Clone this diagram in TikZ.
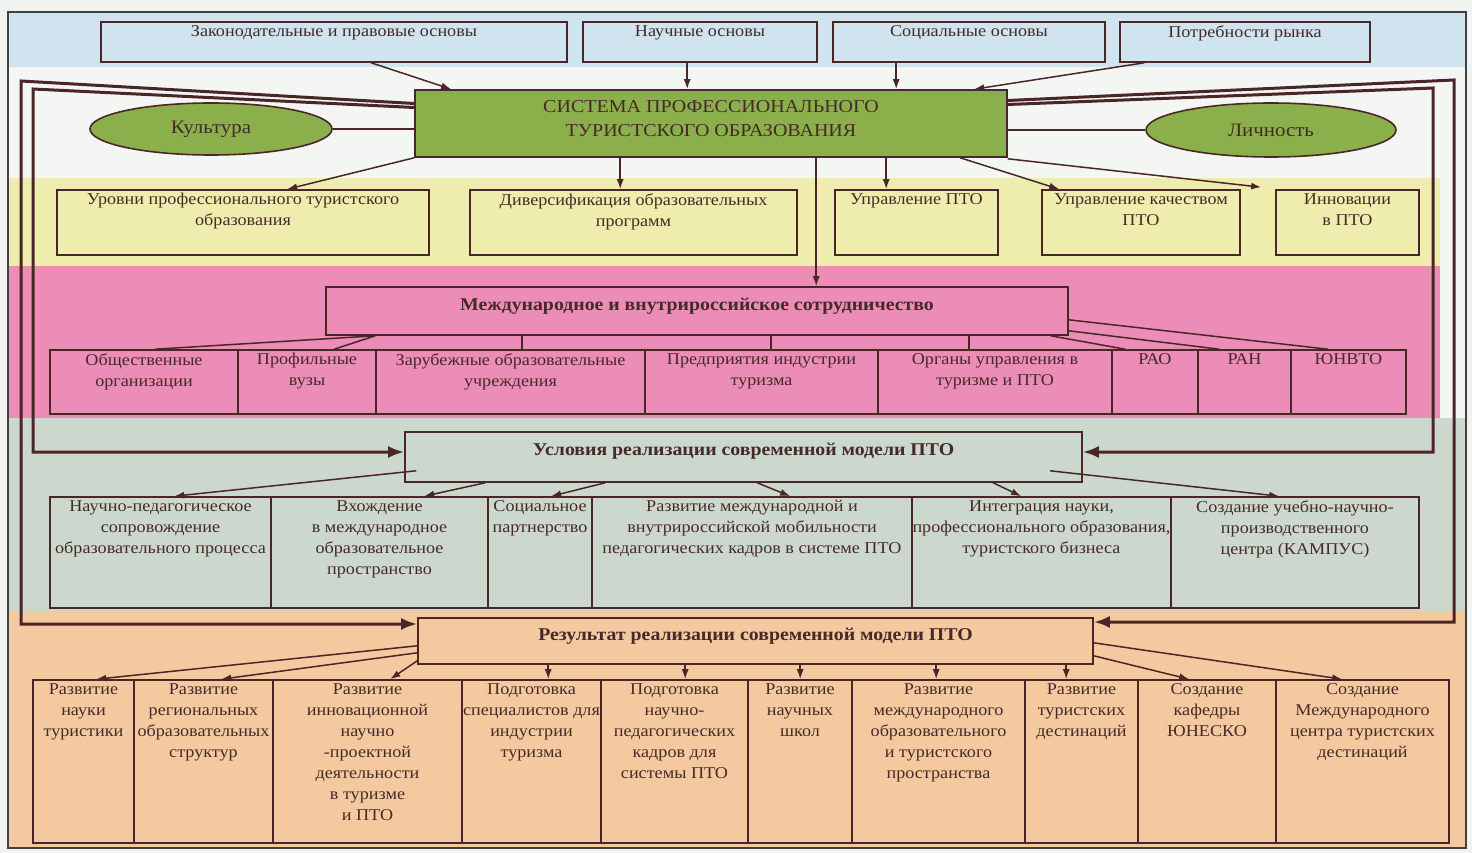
\documentclass[tikz,border=0pt]{standalone}
\usepackage{fontspec}
\setmainfont{Liberation Serif}[FakeStretch=1.1]
\usetikzlibrary{arrows.meta,shapes.geometric}
\definecolor{cpage}{HTML}{F1F3F1}
\definecolor{cblue}{HTML}{CFE4EE}
\definecolor{cwhite}{HTML}{F4F6F4}
\definecolor{cyel}{HTML}{EEEDAE}
\definecolor{cpink}{HTML}{EC8DB7}
\definecolor{cgrey}{HTML}{CCD8CE}
\definecolor{corange}{HTML}{F5C9A0}
\definecolor{cgreen}{HTML}{8BB04B}
\definecolor{ln}{HTML}{4A2626}
\definecolor{txt}{HTML}{452A28}
\tikzset{
  boxsty/.style={draw=ln, line width=1.6pt, rectangle, inner sep=0pt},
  celltxt/.style={text=txt, font=\fontsize{16.5}{21}\selectfont, align=center, anchor=north, inner sep=0pt},
  headtxt/.style={text=txt, font=\fontsize{18}{21}\selectfont\bfseries, align=center, inner sep=0pt},
  conn/.style={draw=ln, line width=1.5pt},
  arr/.style={draw=ln, line width=1.5pt, -{Latex[length=10pt,width=7pt]}},
  loopsty/.style={draw=ln, line width=3pt, -{Latex[length=16pt,width=12pt]}},
  ell/.style={ellipse, draw=ln, line width=1.6pt, fill=cgreen, text=txt, font=\fontsize{19}{21}\selectfont, inner sep=0pt}
}
\newcommand\mkcell[7]{%
  \node[boxsty, minimum width={#4pt-#2pt}, minimum height={#5pt-#3pt}] (#1) at ({(#2+#4)/2},{(#3+#5)/2}) {};
  \node[celltxt] (#1-t) at ({(#2+#4)/2},{#3+#6}) {#7};
}
\begin{document}
\begin{tikzpicture}[x=1pt,y=-1pt]
\useasboundingbox (0,0) rectangle (1472,853);
% backgrounds
\fill[cpage] (0,0) rectangle (1472,853);
\fill[cblue] (8,12) rectangle (1466,67);
\fill[cwhite] (8,67) rectangle (1466,178);
\fill[cwhite] (8,178) rectangle (1466,418);
\fill[cyel] (8,178) rectangle (1440,266);
\fill[cpink] (8,266) rectangle (1440,418);
\fill[cgrey] (8,418) rectangle (1466,611);
\fill[corange] (8,611) rectangle (1466,848);
\draw[draw=black!75, line width=1.5pt] (8,12) rectangle (1466,848);

% top boxes
\mkcell{zak}{101}{22}{567}{62}{3}{Законодательные и правовые основы}
\mkcell{nauch}{583}{22}{817}{62}{3}{Научные основы}
\mkcell{soc}{833}{22}{1105}{62}{3}{Социальные основы}
\mkcell{potr}{1120}{22}{1370}{62}{3}{Потребности рынка}

% main green box
\node[boxsty, fill=cgreen, minimum width=592pt, minimum height=67pt] (G) at (711,123.5) {};
\node[text=txt, font=\fontsize{18.2}{24}\selectfont, align=center, inner sep=0pt] (G-t) at (711,119) {СИСТЕМА ПРОФЕССИОНАЛЬНОГО\\ТУРИСТСКОГО ОБРАЗОВАНИЯ};
\node[ell, minimum width=242pt, minimum height=52pt] (kult) at (211,129) {Культура};
\node[ell, minimum width=250pt, minimum height=54pt] (lich) at (1271,130) {Личность};

% yellow row
\mkcell{urov}{57}{190}{429}{255}{3}{Уровни профессионального туристского\\образования}
\mkcell{div}{470}{190}{797}{255}{3}{Диверсификация образовательных\\программ}
\mkcell{upr}{835}{190}{998}{255}{3}{Управление ПТО}
\mkcell{kach}{1042}{190}{1240}{255}{3}{Управление качеством\\ПТО}
\mkcell{innov}{1276}{190}{1419}{255}{3}{Инновации\\в ПТО}

% pink
\node[boxsty, minimum width=742pt, minimum height=48pt] (mezh) at (697,311) {};
\node[headtxt] (mezh-t) at (697,306) {Международное и внутрироссийское сотрудничество};
\mkcell{obsh}{50}{350}{238}{414}{3}{Общественные\\организации}
\mkcell{prof}{238}{350}{376}{414}{3}{Профильные\\вузы}
\mkcell{zar}{376}{350}{645}{414}{3}{Зарубежные образовательные\\учреждения}
\mkcell{pred}{645}{350}{878}{414}{3}{Предприятия индустрии\\туризма}
\mkcell{org}{878}{350}{1112}{414}{3}{Органы управления в\\туризме и ПТО}
\mkcell{rao}{1112}{350}{1198}{414}{3}{РАО}
\mkcell{ran}{1198}{350}{1291}{414}{3}{РАН}
\mkcell{unwto}{1291}{350}{1406}{414}{3}{ЮНВТО}

% conditions
\node[boxsty, minimum width=677pt, minimum height=50pt] (usl) at (743.5,457) {};
\node[headtxt] (usl-t) at (743.5,451) {Условия реализации современной модели ПТО};
\mkcell{nped}{50}{497}{271}{608}{3}{Научно-педагогическое\\сопровождение\\образовательного процесса}
\mkcell{vhozh}{271}{497}{488}{608}{3}{Вхождение\\в международное\\образовательное\\пространство}
\mkcell{socp}{488}{497}{592}{608}{3}{Социальное\\партнерство}
\mkcell{razv}{592}{497}{912}{608}{3}{Развитие международной и\\внутрироссийской мобильности\\педагогических кадров в системе ПТО}
\mkcell{integ}{912}{497}{1171}{608}{3}{Интеграция науки,\\профессионального образования,\\туристского бизнеса}
\mkcell{kamp}{1171}{497}{1419}{608}{3}{Создание учебно-научно-\\производственного\\центра (КАМПУС)}

% results
\node[boxsty, minimum width=675pt, minimum height=46pt] (res) at (755.5,641) {};
\node[headtxt] (res-t) at (755.5,636) {Результат реализации современной модели ПТО};
\mkcell{ra}{33}{680}{134}{843}{3}{Развитие\\науки\\туристики}
\mkcell{rb}{134}{680}{273}{843}{3}{Развитие\\региональных\\образовательных\\структур}
\mkcell{rc}{273}{680}{462}{843}{3}{Развитие\\инновационной\\научно\\-проектной\\деятельности\\в туризме\\и ПТО}
\mkcell{rd}{462}{680}{601}{843}{3}{Подготовка\\специалистов для\\индустрии\\туризма}
\mkcell{re}{601}{680}{748}{843}{3}{Подготовка\\научно-\\педагогических\\кадров для\\системы ПТО}
\mkcell{rf}{748}{680}{852}{843}{3}{Развитие\\научных\\школ}
\mkcell{rg}{852}{680}{1025}{843}{3}{Развитие\\международного\\образовательного\\и туристского\\пространства}
\mkcell{rh}{1025}{680}{1138}{843}{3}{Развитие\\туристских\\дестинаций}
\mkcell{ri}{1138}{680}{1276}{843}{3}{Создание\\кафедры\\ЮНЕСКО}
\mkcell{rj}{1276}{680}{1449}{843}{3}{Создание\\Международного\\центра туристских\\дестинаций}

% top arrows
\draw[arr] ([xshift=271pt]zak.south west) -- ([xshift=37pt]G.north west);
\draw[arr] ([xshift=105pt]nauch.south west) -- ([xshift=273pt]G.north west);
\draw[arr] ([xshift=64pt]soc.south west) -- ([xshift=482pt]G.north west);
\draw[arr] ([xshift=25pt]potr.south west) -- ([xshift=560pt]G.north west);
\draw[conn] (kult.east) -- (kult.east -| G.west);
\draw[conn] (lich.west -| G.east) -- (lich.west);

% green to yellow
\draw[arr] (G.south west) -- ([xshift=231pt]urov.north west);
\draw[arr] ([xshift=206pt]G.south west) -- ([xshift=151pt]div.north west);
\draw[arr] ([xshift=402pt]G.south west) -- ([xshift=491pt]mezh.north west);
\draw[arr] ([xshift=472pt]G.south west) -- ([xshift=52pt]upr.north west);
\draw[arr] ([xshift=546pt]G.south west) -- ([xshift=18pt]kach.north west);
\draw[arr] ([yshift=-1pt]G.south east) -- ([xshift=-14pt,yshift=2pt]innov.north west);

% pink lines
\draw[conn] ([xshift=50pt]mezh.south west) -- ([xshift=106pt]obsh.north west);
\draw[conn] ([xshift=50pt]mezh.south west) -- ([xshift=97pt]prof.north west);
\draw[conn] ([xshift=197pt]mezh.south west) -- ([xshift=147pt]zar.north west);
\draw[conn] ([xshift=446pt]mezh.south west) -- ([xshift=127pt]pred.north west);
\draw[conn] ([xshift=644pt]mezh.south west) -- ([xshift=92pt]org.north west);
\draw[conn] ([xshift=-18pt]mezh.south east) -- ([xshift=14pt]rao.north west);
\draw[conn] ([yshift=5pt]mezh.south east) -- ([xshift=22pt]ran.north west);
\draw[conn] ([yshift=16pt]mezh.south east) -- ([xshift=38pt]unwto.north west);

% conditions arrows
\draw[arr] ([xshift=12pt,yshift=12pt]usl.south west) -- ([xshift=125pt]nped.north west);
\draw[arr] ([xshift=81pt]usl.south west) -- ([xshift=154pt]vhozh.north west);
\draw[arr] ([xshift=201pt]usl.south west) -- ([xshift=64pt]socp.north west);
\draw[arr] ([xshift=353pt]usl.south west) -- ([xshift=199pt]razv.north west);
\draw[arr] ([xshift=589pt]usl.south west) -- ([xshift=110pt]integ.north west);
\draw[arr] ([xshift=646pt,yshift=12pt]usl.south west) -- ([xshift=109pt]kamp.north west);

% results arrows
\draw[arr] ([yshift=19pt]res.south west) -- ([xshift=64pt]ra.north west);
\draw[arr] ([yshift=12pt]res.south west) -- ([xshift=88pt]rb.north west);
\draw[arr] ([yshift=4pt]res.south west) -- ([xshift=118pt]rc.north west);
\draw[arr] ([xshift=131pt]res.south west) -- ([xshift=87pt]rd.north west);
\draw[arr] ([xshift=268pt]res.south west) -- ([xshift=85pt]re.north west);
\draw[arr] ([xshift=383pt]res.south west) -- ([xshift=53pt]rf.north west);
\draw[arr] ([xshift=519pt]res.south west) -- ([xshift=85pt]rg.north west);
\draw[arr] ([xshift=649pt]res.south west) -- ([xshift=42pt]rh.north west);
\draw[arr] ([yshift=9pt]res.south east) -- ([xshift=52pt]ri.north west);
\draw[arr] ([yshift=22pt]res.south east) -- ([xshift=67pt]rj.north west);

% feedback loops
\coordinate (resL) at ([yshift=17pt]res.west);
\coordinate (uslL) at ([yshift=5pt]usl.west);
\coordinate (resR) at ([yshift=19pt]res.east);
\coordinate (uslR) at ([yshift=5pt]usl.east);
\coordinate (cL1) at (21,81);
\coordinate (cL2) at (33,89);
\coordinate (cR1) at (1454,80);
\coordinate (cR2) at (1433,88);
\draw[loopsty] ([yshift=20pt]G.west) -- (cL1) -- (cL1 |- resL) -- (resL);
\draw[loopsty] ([yshift=16pt]G.west) -- (cL2) -- (cL2 |- uslL) -- (uslL);
\draw[loopsty] ([yshift=23pt]G.east) -- (cR1) -- (cR1 |- resR) -- (resR);
\draw[loopsty] ([yshift=19pt]G.east) -- (cR2) -- (cR2 |- uslR) -- (uslR);
\end{tikzpicture}
\end{document}
